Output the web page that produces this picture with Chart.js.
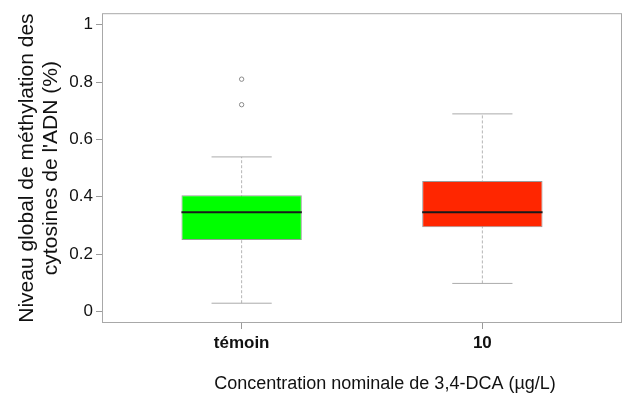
<!DOCTYPE html>
<html lang="fr">
  <head>
    <meta charset="utf-8" />
    <title>Méthylation globale de l'ADN</title>
    <script src="https://cdn.jsdelivr.net/npm/chart.js"></script>
    <style>
      body {
        margin: 0;
        background: #fff;
      }
      #wrap {
        width: 627px;
        height: 394px;
      }
    </style>
  </head>
  <body>
    <div id="wrap"><canvas id="box-chart" width="627" height="394"></canvas></div>

    <script>
      // valeurs
      const GROUPS = ["témoin", "10"];
      const GROUP_X = [1, 2];
      const WHISKER_LO = [0.029, 0.098];
      const Q1 = [0.249, 0.294];
      const MEDIAN = [0.346, 0.346];
      const Q3 = [0.405, 0.455];
      const WHISKER_HI = [0.539, 0.689];
      const OUTLIERS = [[0.721, 0.81], []];
      const Y_TICKS = [0, 0.2, 0.4, 0.6, 0.8, 1];

      const BOX_COLORS = ["#00ff00", "#ff2600"];
      const BOX_HALF = 0.25;
      const CAP_HALF = 0.125;
      const FONT = "'Liberation Sans', Arial, sans-serif";

      // segments séparés par des points null
      function segments(fn) {
        let pts = [];
        GROUP_X.forEach((gx, i) => {
          fn(gx, i).forEach((seg) => {
            pts.push(seg[0], seg[1], { x: gx, y: null });
          });
        });
        return pts;
      }

      const whiskers = segments((gx, i) => [
        [{ x: gx, y: WHISKER_LO[i] }, { x: gx, y: WHISKER_HI[i] }],
      ]);
      const caps = segments((gx, i) => [
        [{ x: gx - CAP_HALF, y: WHISKER_HI[i] }, { x: gx + CAP_HALF, y: WHISKER_HI[i] }],
        [{ x: gx - CAP_HALF, y: WHISKER_LO[i] }, { x: gx + CAP_HALF, y: WHISKER_LO[i] }],
      ]);
      const medians = segments((gx, i) => [
        [{ x: gx - BOX_HALF, y: MEDIAN[i] }, { x: gx + BOX_HALF, y: MEDIAN[i] }],
      ]);
      let outlierPts = [];
      GROUP_X.forEach((gx, i) => {
        OUTLIERS[i].forEach((v) => outlierPts.push({ x: gx, y: v }));
      });

      const frameAndTitles = {
        id: "frameAndTitles",
        afterDraw(chart) {
          const { ctx, chartArea: a } = chart;
          ctx.save();
          ctx.strokeStyle = "#a8a8a8";
          ctx.lineWidth = 1;
          ctx.strokeRect(a.left + 0.5, a.top + 0.5, a.width - 1, a.height - 1);

          ctx.fillStyle = "#111";
          ctx.textAlign = "center";
          ctx.textBaseline = "middle";
          ctx.font = "18px " + FONT;
          ctx.fillText("Concentration nominale de 3,4-DCA (µg/L)", 385, 384);

          ctx.translate(27, (a.top + a.bottom) / 2);
          ctx.rotate(-Math.PI / 2);
          ctx.font = "21px " + FONT;
          ctx.fillText("Niveau global de méthylation des", 0, 0);
          ctx.fillText("cytosines de l'ADN (%)", 0, 24);
          ctx.restore();
        },
      };

      new Chart(document.getElementById("box-chart"), {
        type: "bar",
        data: {
          datasets: [
            {
              type: "line",
              data: medians,
              borderColor: "#1a1a1a",
              borderWidth: 2,
              pointRadius: 0,
              spanGaps: false,
              order: 0,
            },
            {
              type: "line",
              data: outlierPts,
              showLine: false,
              pointRadius: 2.2,
              pointBorderWidth: 1,
              pointBorderColor: "#8a8a8a",
              pointBackgroundColor: "rgba(0,0,0,0)",
              order: 0,
            },
            {
              data: GROUP_X.map((gx, i) => ({ x: gx, y: [Q1[i], Q3[i]] })),
              backgroundColor: BOX_COLORS,
              borderColor: "#9a9a9a",
              borderWidth: 1,
              borderSkipped: false,
              categoryPercentage: 1,
              barPercentage: 2 * BOX_HALF,
              order: 1,
            },
            {
              type: "line",
              data: caps,
              borderColor: "#ababab",
              borderWidth: 1,
              pointRadius: 0,
              spanGaps: false,
              order: 2,
            },
            {
              type: "line",
              data: whiskers,
              borderColor: "#b5b5b5",
              borderWidth: 1,
              borderDash: [3, 2],
              pointRadius: 0,
              spanGaps: false,
              order: 3,
            },
          ],
        },
        options: {
          responsive: false,
          animation: false,
          layout: { padding: { top: 13, right: 4, left: 0, bottom: 0 } },
          plugins: {
            legend: { display: false },
            tooltip: { enabled: false },
          },
          scales: {
            x: {
              type: "linear",
              min: 0.42,
              max: 2.58,
              offset: false,
              afterBuildTicks: (s) => {
                s.ticks = GROUP_X.map((v) => ({ value: v }));
              },
              afterFit: (s) => {
                s.height = 71;
              },
              border: { display: false },
              grid: {
                offset: false,
                drawOnChartArea: false,
                drawTicks: true,
                tickLength: 6,
                color: "#9a9a9a",
              },
              ticks: {
                padding: 4,
                color: "#111",
                font: { family: FONT, size: 17, weight: "bold" },
                callback: (v) => GROUPS[GROUP_X.indexOf(v)],
              },
            },
            y: {
              min: -0.04,
              max: 1.04,
              afterBuildTicks: (s) => {
                s.ticks = Y_TICKS.map((v) => ({ value: v }));
              },
              afterFit: (s) => {
                s.width = 102;
              },
              border: { display: false },
              grid: {
                drawOnChartArea: false,
                drawTicks: true,
                tickLength: 6,
                color: "#9a9a9a",
              },
              ticks: {
                padding: 3,
                color: "#111",
                font: { family: FONT, size: 17 },
                callback: (v) => String(v),
              },
            },
          },
        },
        plugins: [frameAndTitles],
      });
    </script>
  </body>
</html>
